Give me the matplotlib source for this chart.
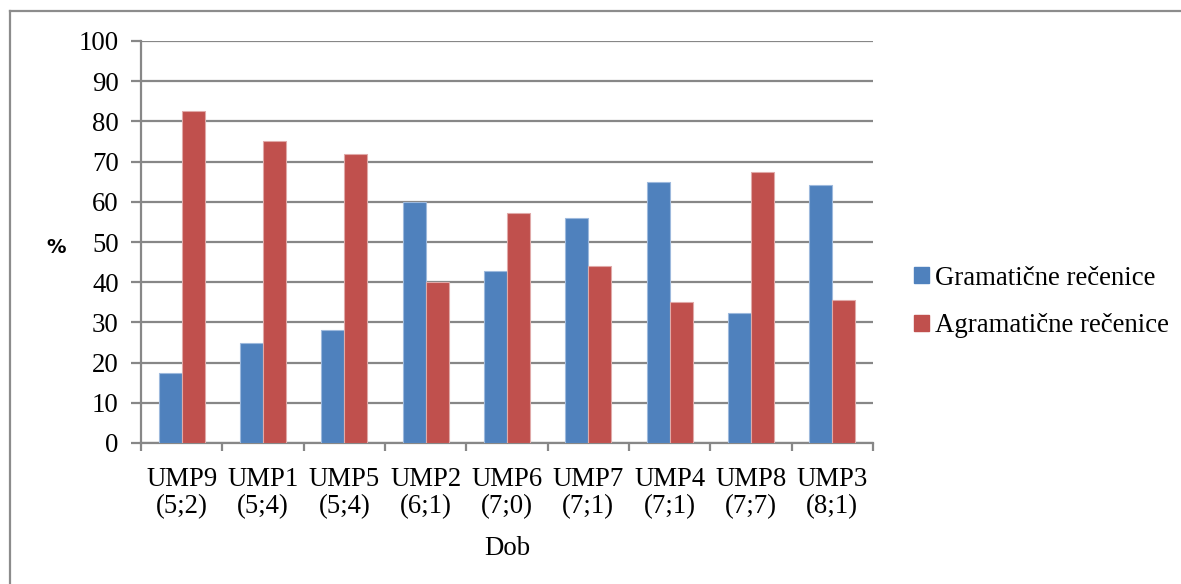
import matplotlib
matplotlib.use("Agg")
import matplotlib.pyplot as plt
import numpy as np
from matplotlib.patches import Rectangle
from matplotlib.lines import Line2D

categories = ["UMP9\n(5;2)", "UMP1\n(5;4)", "UMP5\n(5;4)", "UMP2\n(6;1)", "UMP6\n(7;0)",
              "UMP7\n(7;1)", "UMP4\n(7;1)", "UMP8\n(7;7)", "UMP3\n(8;1)"]
gramaticne = [17.4, 25.0, 28.2, 60.0, 42.9, 55.9, 64.9, 32.3, 64.3]
agramaticne = [82.5, 75.0, 71.8, 40.0, 57.1, 44.0, 35.0, 67.5, 35.6]
series_names = ["Gramatične rečenice", "Agramatične rečenice"]
yticks = list(range(0, 101, 10))

plt.rcParams['font.family'] = ['Liberation Serif', 'DejaVu Serif']

W, H = 1181, 584
FS = 19.3
fig = plt.figure(figsize=(W / 100, H / 100), dpi=100)
ax = fig.add_axes([141 / W, 1 - 443 / H, (873 - 141) / W, (443 - 41) / H])

grid_c = "#878787"
blue = "#4F81BD"
red = "#C0504D"
x = np.arange(len(categories))
bw = 0.283
ax.bar(x - bw / 2, gramaticne, bw, color=blue, edgecolor="#9DB9DD", linewidth=0.8, zorder=3,
       label=series_names[0])
ax.bar(x + bw / 2, agramaticne, bw, color=red, edgecolor="#E0A9A8", linewidth=0.8, zorder=3,
       label=series_names[1])

ax.set_xlim(-0.5, len(categories) - 0.5)
ax.set_ylim(0, 100)
ax.set_yticks(yticks)
ax.set_yticklabels([str(v) for v in yticks], fontsize=FS)
ax.yaxis.grid(True, color=grid_c, linewidth=1.6, zorder=0)
ax.set_axisbelow(True)

ax.set_xticks(np.arange(-0.5, len(categories), 1.0))
ax.set_xticklabels([])
ax.set_xticks(x, minor=True)
ax.set_xticklabels(categories, minor=True, fontsize=FS, linespacing=1.12)
ax.tick_params(axis='x', which='minor', length=0, pad=17)
ax.tick_params(axis='x', which='major', length=6, width=1.6, color=grid_c, direction='out')
ax.tick_params(axis='y', length=7, width=1.6, color=grid_c, direction='out', pad=9)

for s in ["top", "right"]:
    ax.spines[s].set_visible(False)
for s in ["left", "bottom"]:
    ax.spines[s].set_color(grid_c)
    ax.spines[s].set_linewidth(1.6)

ax.set_xlabel("Dob", fontsize=FS, labelpad=12)
fig.text(56 / W, 1 - 248 / H, "%", fontsize=14, fontweight='bold', family='DejaVu Sans',
         ha='center', va='center')

handles = [Rectangle((0, 0), 1, 1, color=blue), Rectangle((0, 0), 1, 1, color=red)]
leg = fig.legend(handles, series_names, loc='center left', bbox_to_anchor=(914 / W, 1 - 302 / H),
                 frameon=False, fontsize=FS, handlelength=0.55, handleheight=0.55,
                 handletextpad=0.25, labelspacing=0.85, borderaxespad=0, borderpad=0)

# outer border
fig.add_artist(Line2D([10 / W, 1], [1 - 11 / H, 1 - 11 / H], transform=fig.transFigure,
                      color="#8c8c8c", linewidth=1.6))
fig.add_artist(Line2D([10 / W, 10 / W], [0, 1 - 11 / H], transform=fig.transFigure,
                      color="#8c8c8c", linewidth=1.6))

fig.savefig("out.png", dpi=100)
